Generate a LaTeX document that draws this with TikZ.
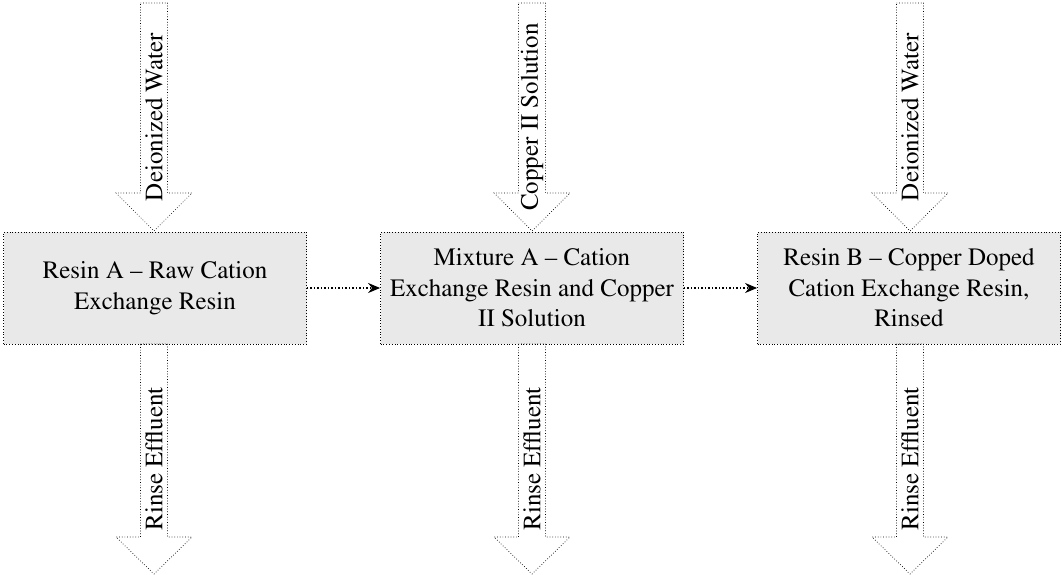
\documentclass[tikz,border=0pt]{standalone}
\usepackage[T1]{fontenc}
\usepackage{mathptmx}
\usetikzlibrary{arrows.meta}
\begin{document}
\begin{tikzpicture}[x=1pt,y=1pt,
  box/.style={draw, dotted, line width=0.8pt, fill=gray!17, minimum width=303pt, minimum height=112pt,
    align=center, font=\fontsize{25}{30.5}\selectfont, inner sep=0pt},
  blockarrow/.style={draw, dotted, line width=0.7pt},
  lbl/.style={rotate=90, font=\fontsize{25}{30}\selectfont, inner sep=0pt},
  link/.style={dotted, line width=1.5pt, -{Stealth[length=12pt,width=10pt]}}]
\useasboundingbox (0,0) rectangle (1062,-575);
\node[box] (b1) at (155,-288) {Resin A -- Raw Cation\\Exchange Resin};
\node[box] (b2) at (532,-288) {Mixture A -- Cation\\Exchange Resin and Copper\\II Solution};
\node[box] (b3) at (909,-288) {Resin B -- Copper Doped\\Cation Exchange Resin,\\Rinsed};
\draw[link] (b1) -- (b2);
\draw[link] (b2) -- (b3);
% top inputs
\draw[blockarrow] (140.5,-3) -- (167.5,-3) -- (167.5,-193) -- (192,-193) -- (154,-231) -- (116,-193) -- (140.5,-193) -- cycle;
\node[lbl] (in1) at (154,-117) {Deionized Water};
\draw[blockarrow] (518.5,-3) -- (545.5,-3) -- (545.5,-193) -- (570,-193) -- (532,-231) -- (494,-193) -- (518.5,-193) -- cycle;
\node[lbl] (in2) at (532,-117) {Copper II Solution};
\draw[blockarrow] (896.5,-3) -- (923.5,-3) -- (923.5,-193) -- (948,-193) -- (910,-231) -- (872,-193) -- (896.5,-193) -- cycle;
\node[lbl] (in3) at (910,-117) {Deionized Water};
% bottom outputs
\draw[blockarrow] (140.5,-344) -- (167.5,-344) -- (167.5,-537) -- (192,-537) -- (154,-574) -- (116,-537) -- (140.5,-537) -- cycle;
\node[lbl] (out1) at (154,-459) {Rinse Effluent};
\draw[blockarrow] (518.5,-344) -- (545.5,-344) -- (545.5,-537) -- (570,-537) -- (532,-574) -- (494,-537) -- (518.5,-537) -- cycle;
\node[lbl] (out2) at (532,-459) {Rinse Effluent};
\draw[blockarrow] (896.5,-344) -- (923.5,-344) -- (923.5,-537) -- (948,-537) -- (910,-574) -- (872,-537) -- (896.5,-537) -- cycle;
\node[lbl] (out3) at (910,-459) {Rinse Effluent};
\end{tikzpicture}
\end{document}
